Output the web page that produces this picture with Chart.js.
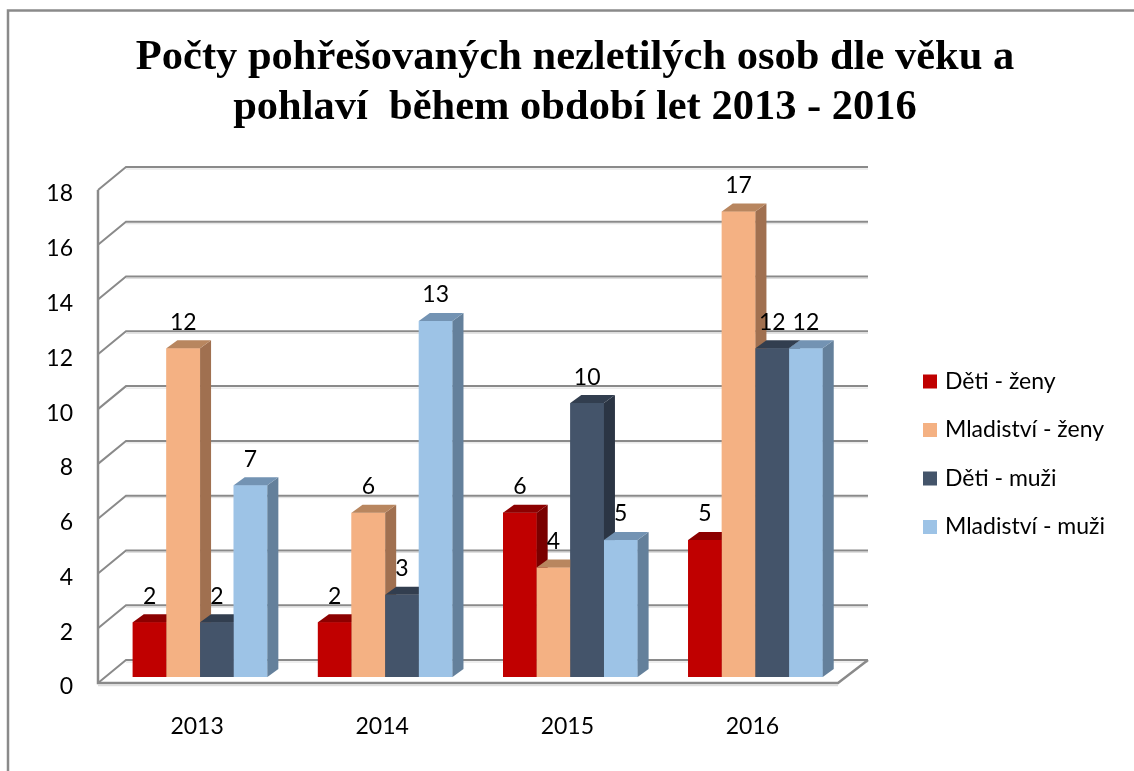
<!DOCTYPE html>
<html>
<head>
<meta charset="utf-8">
<script src="https://cdn.jsdelivr.net/npm/chart.js@4.4.0/dist/chart.umd.min.js"></script>
<style>
html, body { margin: 0; padding: 0; background: #fff; }
</style>
</head>
<body>
<canvas id="missingChart" width="1134" height="771"></canvas>
<script>
const years = ['2013', '2014', '2015', '2016'];
const detiZeny = [2, 2, 6, 5];
const mladistviZeny = [12, 6, 4, 17];
const detiMuzi = [2, 3, 10, 12];
const mladistviMuzi = [7, 13, 5, 12];
const yTicks = [0, 2, 4, 6, 8, 10, 12, 14, 16, 18];
const seriesNames = ['Děti - ženy', 'Mladiství - ženy', 'Děti - muži', 'Mladiství - muži'];
const titleLines = ['Počty pohřešovaných nezletilých osob dle věku a', 'pohlaví  během období let 2013 - 2016'];

// front / side / top colours of each series
const fronts = ['#c00000', '#f4b183', '#44546a', '#9dc3e6'];
const sides = ['#7a0000', '#a07050', '#2b3544', '#64809b'];
const tops = ['#8c0000', '#b8865f', '#323e4f', '#7393b3'];

const fontFace = 'Lato, "Noto Sans", sans-serif';
const depth = { dx: 11, dy: -8 };

// back walls, floor and grid lines
const walls = {
    id: 'walls',
    beforeDatasetsDraw(chart) {
        const ctx = chart.ctx;
        const ys = chart.scales.y;
        const xs = chart.scales.x;
        const fx = xs.left - 9.5, bx = xs.left + 18.5;
        const rx = xs.right + 20, frx = xs.right - 10;
        const back = -17, front = 6;
        ctx.save();
        ctx.lineCap = 'butt';
        yTicks.forEach(v => {
            const py = ys.getPixelForValue(v);
            ctx.strokeStyle = '#dedede';
            ctx.lineWidth = 1;
            ctx.beginPath();
            ctx.moveTo(bx, py + back + 2);
            ctx.lineTo(rx, py + back + 2);
            ctx.stroke();
            ctx.strokeStyle = '#8a8a8a';
            ctx.lineWidth = 2;
            ctx.beginPath();
            ctx.moveTo(fx, py + front);
            ctx.lineTo(bx, py + back);
            ctx.lineTo(rx, py + back);
            ctx.stroke();
        });
        const y0 = ys.getPixelForValue(0);
        const y18 = ys.getPixelForValue(18);
        ctx.strokeStyle = '#dedede';
        ctx.lineWidth = 1.5;
        ctx.beginPath();
        ctx.moveTo(fx, y0 + front + 2.5);
        ctx.lineTo(frx, y0 + front + 2.5);
        ctx.stroke();
        ctx.strokeStyle = '#8a8a8a';
        ctx.lineWidth = 2.5;
        ctx.beginPath();
        ctx.moveTo(fx, y18 + front);
        ctx.lineTo(fx, y0 + front);
        ctx.lineTo(frx, y0 + front);
        ctx.lineTo(rx, y0 + back);
        ctx.stroke();
        ctx.restore();
    }
};

// 3d faces on the bars, value labels, legend and frame
const bars3d = {
    id: 'bars3d',
    afterDatasetsDraw(chart) {
        const ctx = chart.ctx;
        const metas = chart.data.datasets.map((d, i) => chart.getDatasetMeta(i));
        ctx.save();
        for (let j = 0; j < years.length; j++) {
            metas.forEach((meta, i) => {
                const p = meta.data[j].getProps(['x', 'y', 'base', 'width'], true);
                const l = p.x - p.width / 2, r = p.x + p.width / 2;
                ctx.fillStyle = fronts[i];
                ctx.fillRect(l, p.y, p.width, p.base - p.y);
                ctx.fillStyle = sides[i];
                ctx.beginPath();
                ctx.moveTo(r, p.y);
                ctx.lineTo(r + depth.dx, p.y + depth.dy);
                ctx.lineTo(r + depth.dx, p.base + depth.dy);
                ctx.lineTo(r, p.base);
                ctx.closePath();
                ctx.fill();
                ctx.fillStyle = tops[i];
                ctx.beginPath();
                ctx.moveTo(l, p.y);
                ctx.lineTo(l + depth.dx, p.y + depth.dy);
                ctx.lineTo(r + depth.dx, p.y + depth.dy);
                ctx.lineTo(r, p.y);
                ctx.closePath();
                ctx.fill();
            });
        }
        ctx.fillStyle = '#000';
        ctx.font = '23px ' + fontFace;
        ctx.textAlign = 'center';
        ctx.textBaseline = 'middle';
        metas.forEach((meta, i) => {
            meta.data.forEach((bar, j) => {
                const p = bar.getProps(['x', 'y'], true);
                ctx.fillText(String(chart.data.datasets[i].data[j]), p.x, p.y - 26);
            });
        });
        ctx.restore();
    },
    afterDraw(chart) {
        const ctx = chart.ctx;
        ctx.save();
        ctx.font = '23px ' + fontFace;
        ctx.textAlign = 'left';
        ctx.textBaseline = 'middle';
        seriesNames.forEach((name, i) => {
            const cy = 381.5 + i * 48.5;
            ctx.fillStyle = fronts[i];
            ctx.fillRect(923, cy - 7, 14, 14);
            ctx.fillStyle = '#000';
            ctx.fillText(name, 945, cy);
        });
        ctx.strokeStyle = '#8a8a8a';
        ctx.lineWidth = 2.5;
        ctx.strokeRect(8, 10.5, 1400, 1000);
        ctx.restore();
    }
};

const ctx = document.getElementById('missingChart').getContext('2d');
const missingChart = new Chart(ctx, {
    type: 'bar',
    data: {
        labels: years,
        datasets: [
            { label: seriesNames[0], data: detiZeny, backgroundColor: fronts[0] },
            { label: seriesNames[1], data: mladistviZeny, backgroundColor: fronts[1] },
            { label: seriesNames[2], data: detiMuzi, backgroundColor: fronts[2] },
            { label: seriesNames[3], data: mladistviMuzi, backgroundColor: fronts[3] }
        ]
    },
    options: {
        responsive: false,
        animation: false,
        layout: { padding: { left: 16, right: 0, top: 0, bottom: 0 } },
        datasets: {
            bar: { categoryPercentage: 0.727, barPercentage: 1 }
        },
        plugins: {
            legend: { display: false },
            tooltip: { enabled: false },
            title: {
                display: true,
                text: titleLines,
                color: '#000',
                font: { family: '"Liberation Serif", "Times New Roman", serif', size: 42.5, weight: 'bold', lineHeight: 1.18 },
                padding: { top: 33, bottom: 50.7 }
            }
        },
        scales: {
            x: {
                grid: { display: false, drawTicks: false, tickLength: 0 },
                border: { display: false },
                ticks: { color: '#000', font: { family: fontFace, size: 23 }, padding: 35.5, labelOffset: -3 },
                afterFit: s => { s.height = 94; }
            },
            y: {
                min: 0,
                max: 18,
                grid: { display: false, drawTicks: false, tickLength: 0 },
                border: { display: false },
                ticks: { stepSize: 2, color: '#000', font: { family: fontFace, size: 23 }, padding: 34.5, labelOffset: 10 },
                afterFit: s => { s.width = 91.5; }
            },
            // empty axis that only keeps room for the legend on the right
            side: {
                type: 'linear',
                position: 'right',
                grid: { display: false, drawTicks: false },
                border: { display: false },
                ticks: { display: false },
                afterFit: s => { s.width = 286; }
            }
        }
    },
    plugins: [walls, bars3d]
});
</script>
</body>
</html>
